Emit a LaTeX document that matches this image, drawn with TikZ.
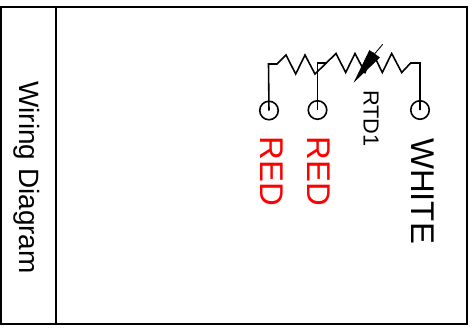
\documentclass[tikz,border=0pt]{standalone}
\usepackage{fontspec}
\setmainfont{Liberation Sans}
\tikzset{
	terminal/.style={draw,circle,minimum size=18.5*0.02cm,inner sep=0pt,line width=0.9pt},
	wire/.style={line width=0.9pt},
	bigtext/.style={rotate=-90,inner sep=0pt,font=\fontsize{18.7pt}{22pt}\selectfont}
}
\begin{document}
\begin{tikzpicture}[x=0.02cm,y=-0.02cm]
	\useasboundingbox (0,0) rectangle (474,328);
	\draw [line width=1.2pt] (1,7) rectangle (467,324);
	\draw [line width=1.2pt] (56,7) -- (56,324);
	\node (title) [rotate=-90,inner sep=0pt,font=\fontsize{15.9pt}{19pt}\selectfont] at (27,177.5) {Wiring Diagram};

	\node (termA) [terminal] at (269,110.5) {};
	\node (termB) [terminal] at (317.5,110) {};
	\node (termC) [terminal] at (420,110) {};

	\coordinate (resL) at (268.5,64);
	\coordinate (tap) at (317.5,63);
	\coordinate (tapEnd) at (326.7,63);
	\coordinate (resR) at (420,63);

	\draw [wire] (termA.center) -- (resL) -- (277,64) -- (286,55) -- (295.7,74) -- (305,55) -- (315,74) -- (336,53.5) -- (345.7,72.5) -- (355,53.5) -- (365,72.5) -- (373,53.5) -- (382.3,72.5) -- (391.7,53.5) -- (401.7,72.5) -- (410.7,63) -- (resR) -- (termC.center);
	\draw [wire] (termB.center) -- (tap) -- (tapEnd);

	\coordinate (tipA) at (354.5,81.5);
	\draw [fill=black,line width=0.3pt] (tipA) -- (369.5,50.5) -- (379.5,57.5) -- cycle;
	\draw [line width=0.5pt] (374.5,54) -- (382.7,44.3);

	\node (rtd) [rotate=-90,inner sep=0pt,font=\fontsize{12.4pt}{15pt}\selectfont] at (371,118.5) {RTD1};
	\node (redA) [bigtext,text=red] at (271.5,171.5) {RED};
	\node (redB) [bigtext,text=red] at (318.5,171.5) {RED};
	\node (white) [bigtext] at (422.5,191) {WHITE};
\end{tikzpicture}
\end{document}
